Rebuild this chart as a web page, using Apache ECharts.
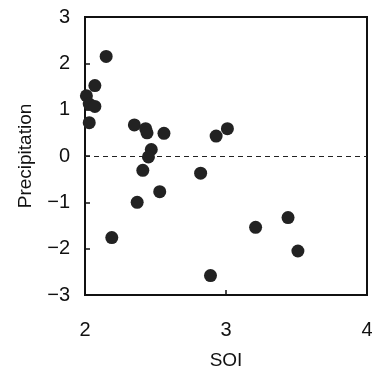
<!DOCTYPE html>
<html>
<head>
<meta charset="utf-8">
<script src="https://cdn.jsdelivr.net/npm/echarts@6/dist/echarts.min.js"></script>
<style>
  html, body { margin: 0; padding: 0; background: #fff; }
  #chart { width: 372px; height: 370px; }
</style>
</head>
<body>
<div id="chart"></div>
<script>
// SOI vs precipitation anomaly
const soi = [2.15, 2.07, 2.01, 2.03, 2.07, 2.03, 2.35, 2.43, 2.44, 2.56, 2.93, 3.01,
  2.47, 2.45, 2.41, 2.82, 2.53, 2.37, 2.19, 3.21, 3.44, 3.51, 2.89];
const precip = [2.15, 1.52, 1.3, 1.12, 1.07, 0.72, 0.67, 0.59, 0.5, 0.49, 0.43, 0.59,
  0.14, -0.02, -0.31, -0.37, -0.77, -1.0, -1.76, -1.54, -1.33, -2.05, -2.58];
const xTicks = [2, 3, 4];
const yTicks = [-3, -2, -1, 0, 1, 2, 3];

const points = soi.map((x, i) => [x, precip[i]]);

const chart = echarts.init(document.getElementById("chart"), null, { renderer: "canvas" });
const font = "Liberation Sans, Arial, sans-serif";

chart.setOption({
  animation: false,
  grid: {
    left: 85, top: 17, width: 282, height: 278,
    outerBoundsMode: "none",
    show: true, borderColor: "#111", borderWidth: 2, backgroundColor: "transparent",
  },
  xAxis: {
    type: "value", min: xTicks[0], max: xTicks[xTicks.length - 1], interval: 1,
    name: "SOI", nameLocation: "middle", nameGap: 56,
    nameTextStyle: { fontSize: 19, color: "#111", fontFamily: font },
    axisLine: { onZero: false, lineStyle: { color: "#111", width: 2 } },
    axisTick: { inside: true, length: 5, lineStyle: { color: "#111", width: 1.5 } },
    axisLabel: { fontSize: 20, color: "#111", margin: 25, fontFamily: font },
    splitLine: { show: false },
  },
  yAxis: {
    type: "value", min: yTicks[0], max: yTicks[yTicks.length - 1], interval: 1,
    name: "Precipitation", nameLocation: "middle", nameGap: 50,
    nameTextStyle: { fontSize: 19, color: "#111", fontFamily: font },
    axisLine: { onZero: false, lineStyle: { color: "#111", width: 2 } },
    axisTick: { inside: true, length: 5, lineStyle: { color: "#111", width: 1.5 } },
    axisLabel: {
      fontSize: 20, color: "#111", margin: 15, fontFamily: font,
      formatter: (v) => (v < 0 ? "\u2212" + Math.abs(v) : String(v)),
    },
    splitLine: { show: false },
  },
  series: [{
    type: "scatter",
    data: points,
    symbolSize: 13,
    itemStyle: { color: "#222", opacity: 1 },
    markLine: {
      silent: true,
      symbol: "none",
      label: { show: false },
      lineStyle: { type: [5, 4], color: "#222", width: 1 },
      data: [{ yAxis: 0 }],
    },
  }],
});
</script>
</body>
</html>
